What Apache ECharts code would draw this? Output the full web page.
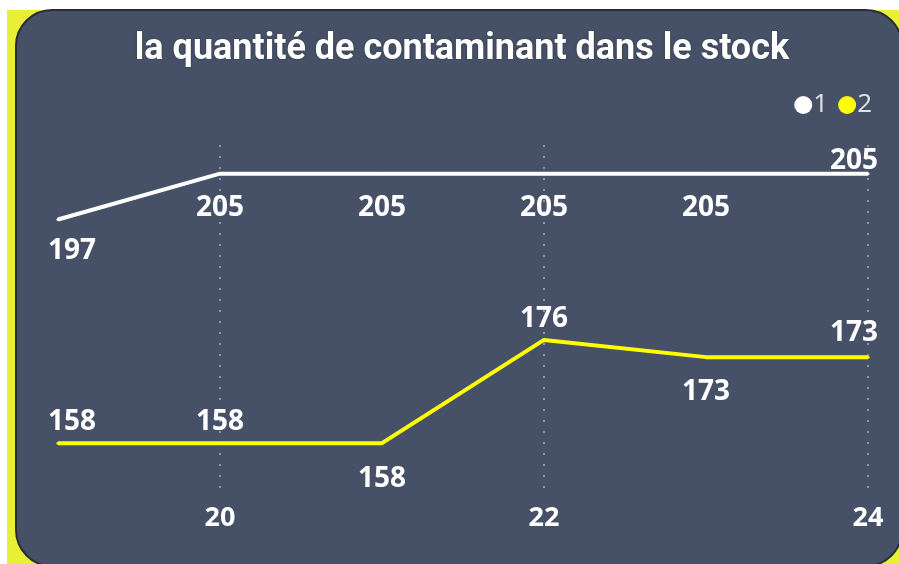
<!DOCTYPE html>
<html><head><meta charset="utf-8">
<script src="https://cdn.jsdelivr.net/npm/echarts@6/dist/echarts.min.js"></script>
<style>html,body{margin:0;padding:0;background:#fff;}#c{width:899px;height:564px;}</style>
</head><body><div id="c"></div>
<script>
const categories = ['19','20','21','22','23','24'];
const series1 = [197, 205, 205, 205, 205, 205];
const series2 = [158, 158, 158, 176, 173, 173];
const labelPos1 = ['bottom','bottom','bottom','bottom','bottom','top'];
const labelPos2 = ['top','top','bottom','top','bottom','top'];
const labelDist1 = [16, 19, 19, 19, 19, -3];
const labelDist2 = [6, 6, 20, 5, 19, 9];
const seriesNames = ['1','2'];
const titleText = 'la quantité de contaminant dans le stock';

function mk(vals, pos, dist){
  const n = vals.length;
  return vals.map((v,i)=>({value:v,label:{position:pos[i],distance:dist[i],
    offset:[i===0?14:(i===n-1?-14:0),0]}}));
}
const lbl = {show:true,color:'#ffffff',fontSize:28,fontWeight:'bold',fontFamily:'Open Sans'};
const chart = echarts.init(document.getElementById('c'));
chart.setOption({
  animation:false,
  graphic:[
    {type:'rect',z:-10,shape:{x:7,y:10,width:892,height:554},style:{fill:'#e8ef35'}},
    {type:'rect',z:-9,shape:{x:16,y:10,width:886,height:556,r:36},style:{fill:'#465066',stroke:'#2a2d33',lineWidth:2}}
  ],
  title:{text:titleText,left:457,top:27,textAlign:'center',
    textStyle:{color:'#ffffff',fontSize:36,fontWeight:'bold',fontFamily:'Roboto',textShadowColor:'rgba(0,0,0,0.4)',textShadowBlur:2}},
  legend:{data:seriesNames,right:22,top:87,icon:'circle',itemWidth:18,itemHeight:18,itemGap:10,
    textStyle:{color:'#e0e3e8',fontSize:26,fontFamily:'Open Sans',padding:[0,0,0,-4]}},
  grid:{left:58,right:31,top:145,height:344},
  xAxis:{type:'category',data:categories,boundaryGap:false,
    axisLine:{show:false},axisTick:{show:false},
    axisLabel:{interval:(i)=>i%2===1,color:'#ffffff',fontSize:27,fontWeight:'bold',fontFamily:'Open Sans',margin:16},
    splitLine:{show:true,interval:(i)=>i%2===1,lineStyle:{color:'#8d95a6',width:2,type:[2,9]}}},
  yAxis:{type:'value',min:150,max:210,show:false,splitLine:{show:false}},
  series:[
    {name:'1',type:'line',data:mk(series1,labelPos1,labelDist1),symbol:'circle',symbolSize:3,showSymbol:true,
      itemStyle:{color:'#ffffff'},
      lineStyle:{width:4,color:'#ffffff'},label:lbl},
    {name:'2',type:'line',data:mk(series2,labelPos2,labelDist2),symbol:'circle',symbolSize:3,showSymbol:true,
      itemStyle:{color:'#ffff00'},
      lineStyle:{width:4,color:'#ffff00'},label:lbl}
  ]
});
</script></body></html>
